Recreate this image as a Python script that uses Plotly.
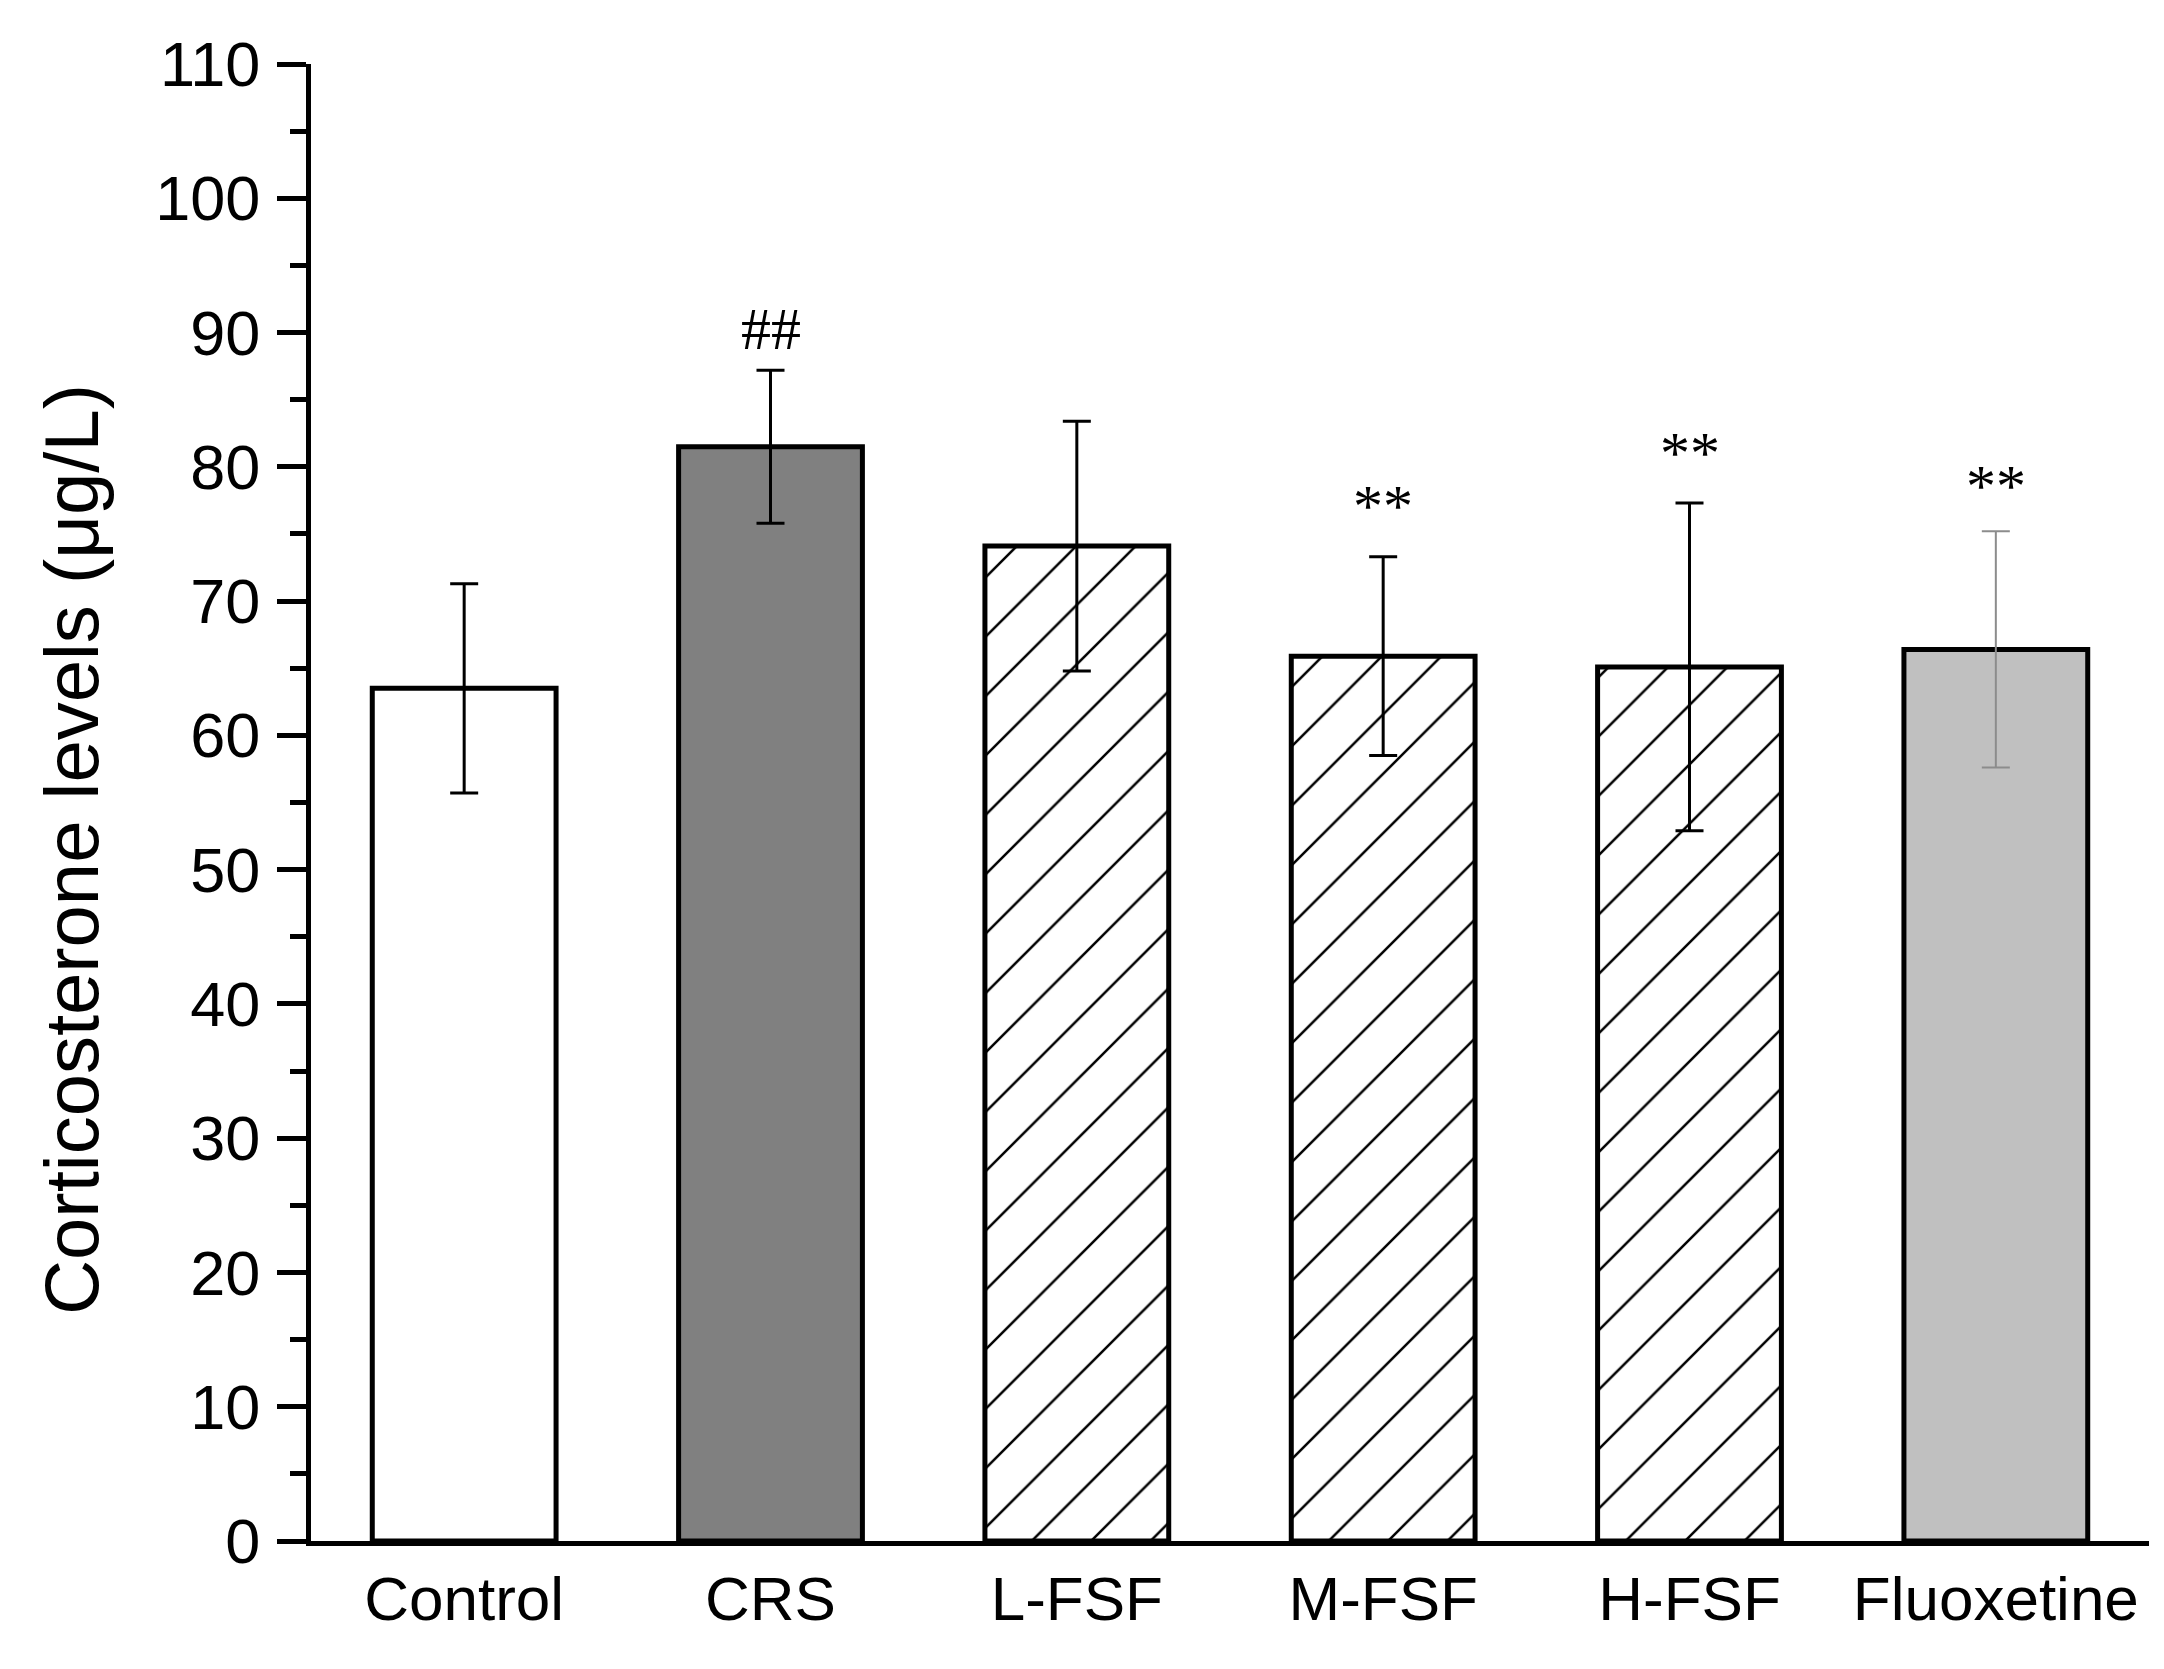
import plotly.graph_objects as go

# Data
groups = ['Control', 'CRS', 'L-FSF', 'M-FSF', 'H-FSF', 'Fluoxetine']
means = [63.5, 81.5, 74.1, 65.9, 65.1, 66.4]
sds = [7.8, 5.7, 9.3, 7.4, 12.2, 8.8]
sig_labels = ['', '##', '', '**', '**', '**']
sig_y = [None, 90.3, None, 77.1, 81.0, 78.6]

fills = ['white', '#808080', 'white', 'white', 'white', '#c0c0c0']
hatches = ['', '', '/', '/', '/', '']
err_colors = ['black', 'black', 'black', 'black', 'black', '#8c8c8c']
err_widths = [3, 3, 3, 3, 3, 2]

fig = go.Figure()

for i, g in enumerate(groups):
    fig.add_trace(go.Bar(
        x=[g], y=[means[i]], width=0.6,
        marker=dict(color=fills[i],
                    line=dict(color='black', width=5),
                    pattern=dict(shape=hatches[i], size=42, solidity=0.06,
                                 fgcolor='black', fgopacity=1, bgcolor=fills[i])),
        error_y=dict(type='data', array=[sds[i]], visible=True,
                     color=err_colors[i], thickness=err_widths[i], width=14),
        showlegend=False,
    ))

# significance marks
for i, g in enumerate(groups):
    if sig_labels[i]:
        fig.add_annotation(x=g, y=sig_y[i], text=sig_labels[i], showarrow=False,
                           xref='x', yref='y', yanchor='middle',
                           font=dict(family='Liberation Serif', size=60, color='black'))

# y axis title
fig.add_annotation(text='Corticosterone levels (μg/L)', textangle=-90,
                   xref='paper', yref='paper', x=-0.13, y=0.468,
                   xanchor='center', yanchor='middle', showarrow=False,
                   font=dict(family='Liberation Sans', size=76, color='black'))

fig.update_layout(
    width=2164, height=1669,
    margin=dict(l=303, r=23, t=56, b=136),
    plot_bgcolor='white', paper_bgcolor='white',
    barmode='overlay',
    font=dict(family='Liberation Sans', color='black', size=62),
)

fig.update_xaxes(
    type='category', range=[-0.5, 5.5],
    showline=True, linecolor='black', linewidth=5,
    ticks='', showgrid=False, zeroline=False,
    tickfont=dict(size=62),
)

fig.update_yaxes(
    range=[0, 110], dtick=10, tick0=0,
    showline=True, linecolor='black', linewidth=5,
    ticks='outside', ticklen=29, tickwidth=5, tickcolor='black',
    minor=dict(dtick=5, ticks='outside', ticklen=16, tickwidth=5, tickcolor='black'),
    showgrid=False, zeroline=False,
    tickfont=dict(size=63),
    ticklabelstandoff=4,
)

fig.write_html('out.html')
